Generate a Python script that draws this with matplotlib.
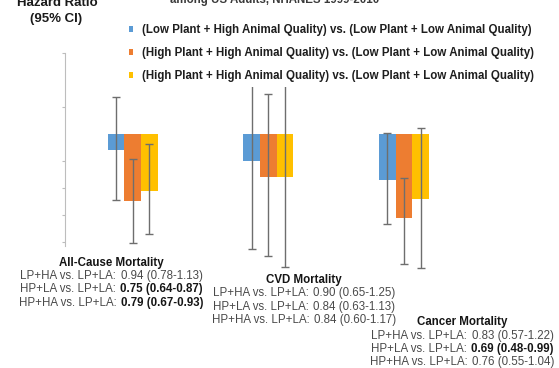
import matplotlib
matplotlib.use("Agg")
import matplotlib.pyplot as plt
from matplotlib.offsetbox import TextArea, HPacker, AnnotationBbox

plt.rcParams["font.family"] = ["Liberation Sans", "DejaVu Sans"]

# ---- data -------------------------------------------------------------
outcomes = ["All-Cause Mortality", "CVD Mortality", "Cancer Mortality"]
comparisons = [
    "(Low Plant + High Animal Quality) vs. (Low Plant + Low Animal Quality)",
    "(High Plant + High Animal Quality) vs. (Low Plant + Low Animal Quality)",
    "(High Plant + High Animal Quality) vs. (Low Plant + Low Animal Quality)",
]
short_names = ["LP+HA", "HP+LA", "HP+HA"]
colors = ["#5B9BD5", "#ED7D31", "#FFC000"]

# hazard ratios, one list per comparison (all-cause, CVD, cancer)
hr_lp_ha = [0.94, 0.90, 0.83]
hr_hp_la = [0.75, 0.84, 0.69]
hr_hp_ha = [0.79, 0.84, 0.76]

# 95% CI bounds printed under each outcome
ci_lo_lp_ha = [0.78, 0.65, 0.57]
ci_hi_lp_ha = [1.13, 1.25, 1.22]
ci_lo_hp_la = [0.64, 0.63, 0.48]
ci_hi_hp_la = [0.87, 1.13, 0.99]
ci_lo_hp_ha = [0.67, 0.60, 0.55]
ci_hi_hp_ha = [0.93, 1.17, 1.04]

# whisker extents as drawn on the bars
whisker_lo_lp_ha = [0.756, 0.575, 0.666]
whisker_hi_lp_ha = [1.135, 1.240, 1.004]
whisker_lo_hp_la = [0.596, 0.548, 0.517]
whisker_hi_hp_la = [0.908, 1.146, 0.838]
whisker_lo_hp_ha = [0.629, 0.508, 0.503]
whisker_hi_hp_ha = [0.962, 1.200, 1.020]

# statistically significant results are printed in bold
significant_lp_ha = [False, False, False]
significant_hp_la = [True, False, True]
significant_hp_ha = [True, False, False]

y_ticks = [0.6, 0.7, 0.8, 0.9, 1.1, 1.3]
reference_hr = 1.0

hr = [hr_lp_ha, hr_hp_la, hr_hp_ha]
ci_lo = [ci_lo_lp_ha, ci_lo_hp_la, ci_lo_hp_ha]
ci_hi = [ci_hi_lp_ha, ci_hi_hp_la, ci_hi_hp_ha]
w_lo = [whisker_lo_lp_ha, whisker_lo_hp_la, whisker_lo_hp_ha]
w_hi = [whisker_hi_lp_ha, whisker_hi_hp_la, whisker_hi_hp_ha]
sig = [significant_lp_ha, significant_hp_la, significant_hp_ha]

# ---- figure -----------------------------------------------------------
W, H = 559, 368
fig = plt.figure(figsize=(W / 100, H / 100), dpi=100)
ax = fig.add_axes([65 / W, (H - 246.0) / H, 474.4 / W, 193.3 / H])

bar_w = 0.123
offsets = [-bar_w, 0.0, bar_w]
containers = []
for k in range(3):
    xs = [i + offsets[k] for i in range(len(outcomes))]
    heights = [v - reference_hr for v in hr[k]]
    bc = ax.bar(xs, heights, width=bar_w, bottom=reference_hr,
                color=colors[k], edgecolor="none", zorder=2)
    containers.append(bc)
    lower = [v - lo for v, lo in zip(hr[k], w_lo[k])]
    upper = [hi - v for v, hi in zip(hr[k], w_hi[k])]
    ax.errorbar(xs, hr[k], yerr=[lower, upper], fmt="none",
                ecolor="#6e6e6e", elinewidth=1.0, capsize=2.6,
                capthick=1.0, clip_on=False, zorder=3)

ax.set_xlim(-0.5, 3.0)
ax.set_ylim(0.585, 1.3)
ax.set_yticks(y_ticks)
ax.set_yticklabels([])
ax.set_xticks([])
for side in ["top", "right", "bottom"]:
    ax.spines[side].set_visible(False)
ax.spines["left"].set_color("#bdbdbd")
ax.spines["left"].set_linewidth(0.8)
ax.spines["left"].set_bounds(0.585, 1.3)
ax.tick_params(axis="y", direction="out", length=2.5, width=0.8,
               color="#bdbdbd")
ax.patch.set_visible(False)

# legend with small square keys
leg = fig.legend(containers, comparisons, loc="upper left",
                 bbox_to_anchor=(124.5 / W, 1 - 19.5 / H),
                 bbox_transform=fig.transFigure, borderaxespad=0,
                 borderpad=0.4, handlelength=0.35, handleheight=0.35,
                 handletextpad=0.75, labelspacing=0.95,
                 frameon=True, fancybox=False, framealpha=1.0,
                 prop={"size": 8.3, "weight": "bold"})
leg.get_frame().set_facecolor("white")
leg.get_frame().set_edgecolor("none")
for t in leg.get_texts():
    t.set_color("#1e1e1e")

# axis heading and chart subtitle
fig.text(57 / W, 1 - 3.5 / H, "Hazard Ratio", ha="center", va="center",
         fontsize=9.5, fontweight="bold", color="#1a1a1a")
fig.text(56 / W, 1 - 19 / H, "(95% CI)", ha="center", va="center",
         fontsize=9.5, fontweight="bold", color="#1a1a1a")
fig.text(275 / W, 1 - 2.5 / H, "among US Adults, NHANES 1999-2010",
         ha="center", va="baseline", fontsize=8.3, fontweight="bold",
         color="#3a3a3a")

# result summaries under each outcome
block_pos = [(111.5, 262.7), (303.8, 280.0), (462.5, 322.3)]
line_step = 13.3


def place(box, cx, cy):
    ab = AnnotationBbox(box, (cx, H - cy), xycoords="figure pixels",
                        frameon=False, box_alignment=(0.5, 0.5), pad=0)
    fig.add_artist(ab)


for i, name in enumerate(outcomes):
    cx, cy = block_pos[i]
    title = TextArea(name, textprops=dict(fontsize=8.3, fontweight="bold",
                                          color="#151515"))
    place(title, cx, cy)
    for k in range(3):
        prefix = f"{short_names[k]} vs. LP+LA:"
        value = f"{hr[k][i]:.2f} ({ci_lo[k][i]:.2f}-{ci_hi[k][i]:.2f})"
        bold = sig[k][i]
        p = TextArea(prefix, textprops=dict(fontsize=8.3, color="#4a4a4a"))
        v = TextArea(value, textprops=dict(
            fontsize=8.3, fontweight="bold" if bold else "normal",
            color="#151515" if bold else "#4a4a4a"))
        row = HPacker(children=[p, v], align="baseline", pad=0, sep=3.2)
        place(row, cx, cy + line_step * (k + 1))

fig.savefig("out.png", dpi=100)
